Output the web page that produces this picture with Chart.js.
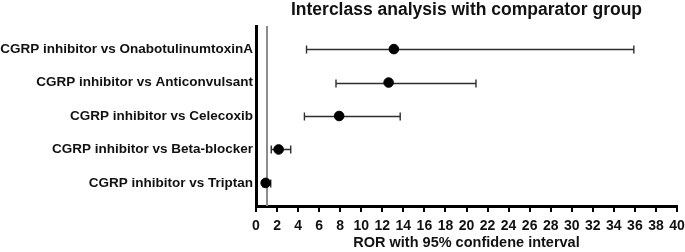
<!DOCTYPE html>
<html>
<head>
<meta charset="utf-8">
<script src="https://cdn.jsdelivr.net/npm/chart.js@4"></script>
<style>
  html, body { margin: 0; padding: 0; background: #fff; }
  #wrap { width: 685px; height: 252px; position: relative; }
</style>
</head>
<body>
<div id="wrap"><canvas id="forest"></canvas></div>
<script>
const comparisons = [
  'CGRP inhibitor vs OnabotulinumtoxinA',
  'CGRP inhibitor vs Anticonvulsant',
  'CGRP inhibitor vs Celecoxib',
  'CGRP inhibitor vs Beta-blocker',
  'CGRP inhibitor vs Triptan'
];
const ror     = [13.1, 12.6, 7.9, 2.15, 0.92];
const ciLower = [4.8, 7.6, 4.6, 1.45, 0.65];
const ciUpper = [35.9, 20.9, 13.7, 3.3, 1.4];
const refValue = 1;
const chartTitle = 'Interclass analysis with comparator group';

const FONT = 'Arial, "Liberation Sans", Helvetica, sans-serif';

// whiskers + reference line, positioned through the chart scales
const forestPlugin = {
  id: 'forest',
  beforeDatasetsDraw(chart) {
    const { ctx, scales: { x, y }, chartArea } = chart;
    ctx.save();

    // vertical line of no effect
    const rx = Math.round(x.getPixelForValue(refValue));
    ctx.strokeStyle = '#8c8c8c';
    ctx.lineWidth = 2;
    ctx.beginPath();
    ctx.moveTo(rx, chartArea.top);
    ctx.lineTo(rx, chartArea.bottom);
    ctx.stroke();

    ctx.strokeStyle = '#2e2e2e';
    ctx.lineWidth = 1.4;
    comparisons.forEach((_, i) => {
      const py = Math.round(y.getPixelForValue(i)) + 0.5;
      const x1 = x.getPixelForValue(ciLower[i]);
      const x2 = x.getPixelForValue(ciUpper[i]);
      ctx.beginPath();
      ctx.moveTo(x1, py);
      ctx.lineTo(x2, py);
      ctx.moveTo(x1, py - 4);
      ctx.lineTo(x1, py + 4);
      ctx.moveTo(x2, py - 4);
      ctx.lineTo(x2, py + 4);
      ctx.stroke();
    });
    ctx.restore();
  },
  afterDraw(chart) {
    // title centred over the plot area, like the original
    const { ctx, chartArea } = chart;
    ctx.save();
    ctx.fillStyle = '#111';
    ctx.font = 'bold 17.5px ' + FONT;
    ctx.textAlign = 'center';
    ctx.textBaseline = 'middle';
    ctx.fillText(chartTitle, (chartArea.left + chartArea.right) / 2, 10);
    ctx.restore();
  }
};

new Chart(document.getElementById('forest'), {
  type: 'scatter',
  data: {
    datasets: [{
      label: 'ROR',
      data: ror.map((v, i) => ({ x: v, y: i })),
      backgroundColor: '#000',
      borderColor: '#000',
      pointRadius: 4.8,
      pointHoverRadius: 4.8
    }]
  },
  options: {
    responsive: true,
    maintainAspectRatio: false,
    animation: false,
    layout: { padding: { left: 0, right: 0, top: 26, bottom: 0 } },
    plugins: {
      legend: { display: false },
      tooltip: { enabled: false },
      title: { display: false }
    },
    scales: {
      x: {
        type: 'linear',
        min: 0,
        max: 40,
        ticks: {
          stepSize: 2,
          color: '#111',
          font: { family: FONT, size: 14, weight: 'bold' },
          padding: 6,
          maxRotation: 0,
          autoSkip: false
        },
        grid: {
          display: true,
          drawOnChartArea: false,
          drawTicks: true,
          tickLength: 6,
          lineWidth: 2,
          color: '#000'
        },
        border: { display: true, width: 3, color: '#000' },
        afterFit: (scale) => {
          scale.height = 46;
          scale.paddingLeft = 0;
          scale.paddingRight = 8;
        },
        title: {
          display: true,
          text: 'ROR with 95% confidene interval',
          color: '#111',
          font: { family: FONT, size: 14.5, weight: 'bold' },
          padding: { top: 0, bottom: 0 }
        }
      },
      y: {
        type: 'linear',
        reverse: true,
        min: -0.69,
        max: 4.69,
        afterBuildTicks: (scale) => {
          scale.ticks = comparisons.map((_, i) => ({ value: i }));
        },
        afterFit: (scale) => { scale.width = 256; },
        ticks: {
          callback: (v) => comparisons[v],
          color: '#111',
          font: { family: FONT, size: 13.5, weight: 'bold' },
          padding: 3
        },
        grid: { display: false, drawTicks: false },
        border: { display: true, width: 3, color: '#000' }
      }
    }
  },
  plugins: [forestPlugin]
});
</script>
</body>
</html>
